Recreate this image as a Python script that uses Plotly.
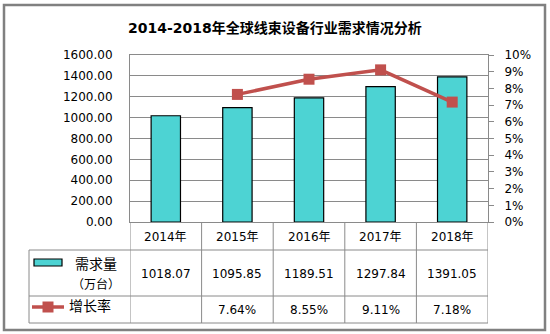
import plotly.graph_objects as go

years = ["2014年", "2015年", "2016年", "2017年", "2018年"]
demand = [1018.07, 1095.85, 1189.51, 1297.84, 1391.05]
growth = [None, 0.0764, 0.0855, 0.0911, 0.0718]
demand_labels = ["1018.07", "1095.85", "1189.51", "1297.84", "1391.05"]
growth_labels = ["", "7.64%", "8.55%", "9.11%", "7.18%"]
title_text = "2014-2018年全球线束设备行业需求情况分析"

W, H = 550, 334
L, R, T, B = 130, 488, 55, 222
FONT = "DejaVu Sans, Noto Sans CJK SC, sans-serif"
GRID = "#8a8a8a"
TEAL = "#4DD3D3"
RED = "#C0504D"


def px(x):
    return (x - L) / (R - L)


def py(y):
    return (B - y) / (B - T)


fig = go.Figure()
fig.add_trace(go.Bar(
    x=years, y=demand, width=0.41,
    marker=dict(color=TEAL, line=dict(color="#000000", width=1.2)),
    name="需求量（万台）", showlegend=False, hoverinfo="skip",
))
fig.add_trace(go.Scatter(
    x=years, y=growth, yaxis="y2", mode="lines+markers",
    line=dict(color=RED, width=3.5),
    marker=dict(symbol="square", size=11, color=RED),
    name="增长率", showlegend=False, hoverinfo="skip", connectgaps=False,
))

shapes = []
ann = []
lc = dict(color=GRID, width=1)

# outer border
shapes.append(dict(type="rect", xref="paper", yref="paper",
                   x0=px(4), x1=px(545), y0=py(330), y1=py(5),
                   line=dict(color="#808080", width=2.5), layer="below"))

# table horizontal lines
for yy in (250, 296, 323):
    shapes.append(dict(type="line", xref="paper", yref="paper",
                       x0=px(29), x1=1.0, y0=py(yy), y1=py(yy), line=lc))
# table vertical lines
for i in range(len(years) + 1):
    shapes.append(dict(type="line", xref="x", yref="paper",
                       x0=i - 0.5, x1=i - 0.5, y0=0, y1=py(323), line=lc))
shapes.append(dict(type="line", xref="paper", yref="paper",
                   x0=px(29), x1=px(29), y0=py(250), y1=py(323), line=lc))

# legend glyphs
shapes.append(dict(type="rect", xref="paper", yref="paper",
                   x0=px(34), x1=px(62), y0=py(266), y1=py(259),
                   fillcolor=TEAL, line=dict(color="#000000", width=1.2)))
shapes.append(dict(type="line", xref="paper", yref="paper",
                   x0=px(32), x1=px(64), y0=py(307), y1=py(307),
                   line=dict(color=RED, width=3.5)))
shapes.append(dict(type="rect", xref="paper", yref="paper",
                   x0=px(42.5), x1=px(53.5), y0=py(312.5), y1=py(301.5),
                   fillcolor=RED, line=dict(color=RED, width=0)))

tf = dict(family=FONT, size=12, color="#000000")
for i, yr in enumerate(years):
    ann.append(dict(x=yr, xref="x", y=py(237), yref="paper", text=yr,
                    showarrow=False, font=tf, xanchor="center", yanchor="middle"))
    ann.append(dict(x=yr, xref="x", y=py(274), yref="paper", text=demand_labels[i],
                    showarrow=False, font=tf, xanchor="center", yanchor="middle"))
    if growth_labels[i]:
        ann.append(dict(x=yr, xref="x", y=py(310), yref="paper", text=growth_labels[i],
                        showarrow=False, font=tf, xanchor="center", yanchor="middle"))

lf = dict(family=FONT, size=14, color="#000000")
ann.append(dict(x=px(96), y=py(264), xref="paper", yref="paper", text="需求量",
                showarrow=False, font=lf, xanchor="center", yanchor="middle"))
ann.append(dict(x=px(96), y=py(284), xref="paper", yref="paper", text="（万台）",
                showarrow=False, font=dict(family=FONT, size=12, color="#000000"),
                xanchor="center", yanchor="middle"))
ann.append(dict(x=px(67), y=py(306), xref="paper", yref="paper", text="增长率",
                showarrow=False, font=lf, xanchor="left", yanchor="middle"))

ann.append(dict(x=px(275), y=py(28), xref="paper", yref="paper",
                text="<b>" + title_text + "</b>", showarrow=False,
                font=dict(family=FONT, size=14, color="#000000"),
                xanchor="center", yanchor="middle"))

fig.update_layout(
    width=W, height=H,
    margin=dict(l=L, r=W - R, t=T, b=H - B, pad=0),
    paper_bgcolor="#ffffff", plot_bgcolor="#ffffff",
    font=dict(family=FONT, size=12, color="#000000"),
    bargap=0.59,
    xaxis=dict(type="category", range=[-0.5, 4.5], showticklabels=False,
               showgrid=False, zeroline=False, showline=True, linecolor=GRID,
               linewidth=1, mirror=True, ticks="", fixedrange=True),
    yaxis=dict(range=[0, 1600], dtick=200, tickformat=".2f", showgrid=True,
               gridcolor=GRID, gridwidth=1, zeroline=False, showline=True,
               linecolor=GRID, mirror=True, ticks="", ticklabelstandoff=14,
               tickfont=dict(family=FONT, size=12, color="#000000")),
    yaxis2=dict(range=[0, 0.10], dtick=0.01, tickformat=".0%", overlaying="y",
                side="right", showgrid=False, zeroline=False, showline=True,
                linecolor=GRID, ticks="outside", ticklen=5, tickcolor=GRID,
                ticklabelstandoff=8,
                tickfont=dict(family=FONT, size=12, color="#000000")),
    shapes=shapes, annotations=ann, showlegend=False,
)

fig.write_html("out.html")
